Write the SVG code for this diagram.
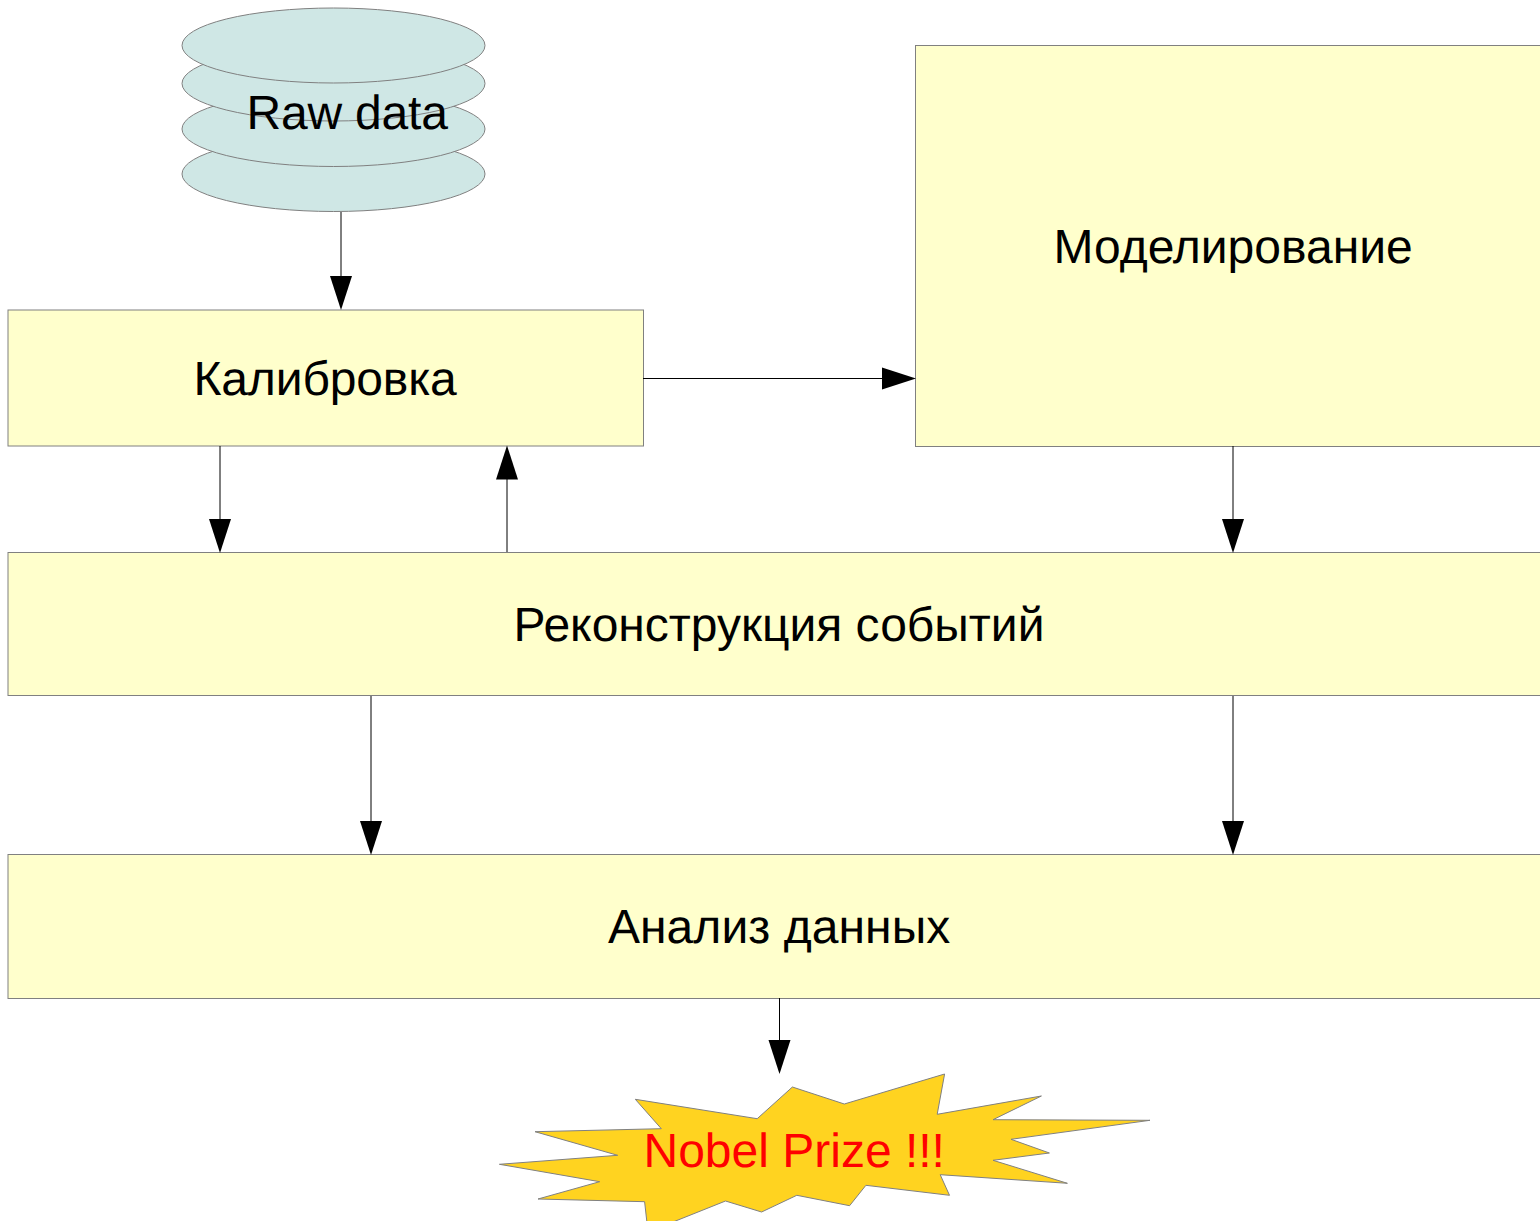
<svg xmlns="http://www.w3.org/2000/svg" width="1540" height="1221" viewBox="0 0 1540 1221">
<style>
.box{fill:#ffffcc;stroke:#808080;stroke-width:1}
.db{fill:#cfe7e5;stroke:#808080;stroke-width:1}
.t{font-family:"Liberation Sans",Arial,sans-serif;font-size:48px;fill:#000;text-rendering:geometricPrecision}
.c{fill:none;stroke:#000;stroke-width:1;marker-end:url(#arr)}
</style>
<defs>
<marker id="arr" markerUnits="userSpaceOnUse" markerWidth="36" markerHeight="24" refX="30" refY="12" orient="auto" overflow="visible">
<path d="M0 1L34 12L0 23Z" fill="#000"/>
</marker>
</defs>
<rect width="1540" height="1221" fill="#fff"/>
<g id="raw-data">
<ellipse class="db" cx="333.5" cy="174" rx="151.5" ry="37.5"/>
<ellipse class="db" cx="333.5" cy="129" rx="151.5" ry="37.5"/>
<ellipse class="db" cx="333.5" cy="83.5" rx="151.5" ry="37.5"/>
<ellipse class="db" cx="333.5" cy="45.5" rx="151.5" ry="37.5"/>
<text class="t" x="246.500" y="129" letter-spacing="-0.2">Raw data</text>
</g>
<g id="calibration">
<rect class="box" x="8" y="310" width="635.500" height="136"/>
<text class="t" x="193.500" y="395" letter-spacing="-0.15">Калибровка</text>
</g>
<g id="modeling">
<rect class="box" x="915.500" y="45.500" width="640" height="401"/>
<text class="t" x="1053.500" y="263">Моделирование</text>
</g>
<g id="reconstruction">
<rect class="box" x="8" y="552.500" width="1547" height="143"/>
<text class="t" x="513.500" y="641">Реконструкция событий</text>
</g>
<g id="analysis">
<rect class="box" x="8" y="854.500" width="1547" height="144"/>
<text class="t" x="608" y="943" letter-spacing="0.05">Анализ данных</text>
</g>
<g id="nobel">
<polygon points="499.400,1164.300 617.700,1155.300 535,1131.700 661.300,1128.700 635.300,1099.300 757.200,1118.700 792.400,1087 844.300,1104 944.600,1074 937.200,1114.300 1041.400,1096 993,1119.700 1150,1120.300 1011,1139.300 1049.400,1153 993,1160.300 1067.400,1183.300 940.200,1174.700 949.500,1195.300 865.900,1185.300 849.600,1205.700 796.800,1195.300 761.600,1212 725.500,1201 648,1232 644.600,1201.700 538,1199 599.700,1181.700" fill="#ffd320" stroke="#808080" stroke-width="1"/>
<text class="t" x="643.500" y="1167" style="fill:#ff0000">Nobel Prize !!!</text>
</g>
<g id="connectors">
<line class="c" x1="341" y1="212" x2="341" y2="306"/>
<line class="c" x1="643" y1="378.500" x2="912" y2="378.500"/>
<line class="c" x1="220" y1="446" x2="220" y2="549"/>
<line class="c" x1="507" y1="552" x2="507" y2="449.500"/>
<line class="c" x1="1233" y1="446" x2="1233" y2="549"/>
<line class="c" x1="371" y1="696" x2="371" y2="851"/>
<line class="c" x1="1233" y1="696" x2="1233" y2="851"/>
<line class="c" x1="779.500" y1="998" x2="779.500" y2="1070"/>
</g>
</svg>
